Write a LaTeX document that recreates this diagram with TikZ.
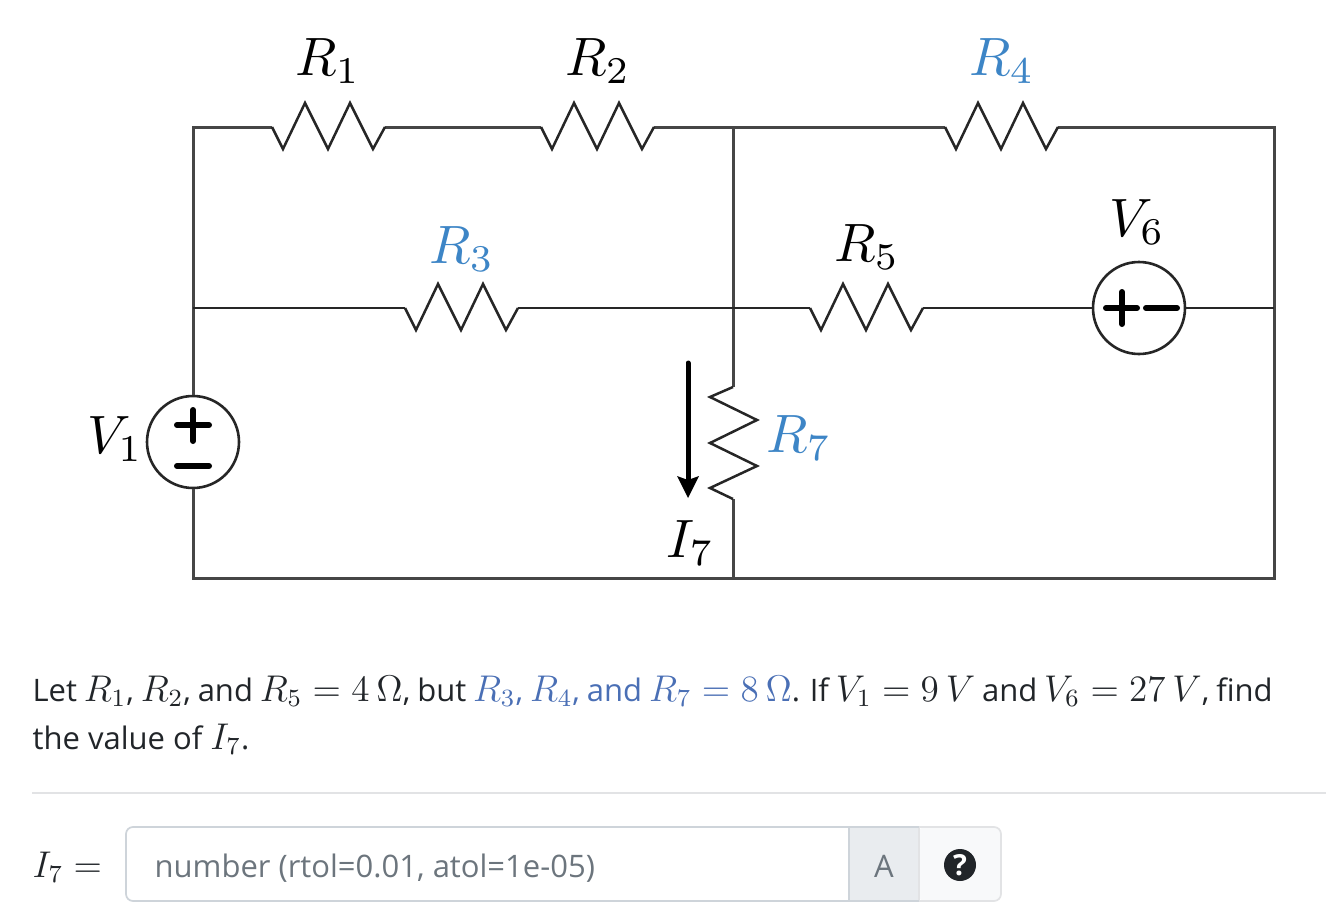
\documentclass[tikz,border=0pt]{standalone}
\usepackage{fontspec}
\setmainfont{Open Sans}
\definecolor{wire}{HTML}{464646}
\definecolor{rblue}{HTML}{3D85C6}
\definecolor{tblue}{HTML}{4A6FB5}
\definecolor{txt}{HTML}{212529}
\definecolor{ph}{HTML}{6C757D}
\definecolor{bd}{HTML}{CED4DA}
\definecolor{hr}{HTML}{E2E3E5}
\definecolor{addon}{HTML}{E9ECEF}
\definecolor{help}{HTML}{F8F9FA}
\newcommand{\mth}[1]{{\large$#1$}}
\tikzset{
  x=1pt,y=-1pt,
  thick wire/.style={draw=wire,line width=3pt},
  thin wire/.style={draw=black!85,line width=2.4pt},
  zig/.style={draw=black!85,line width=2.5pt,line join=miter},
  src/.style={circle,draw=black!85,fill=white,line width=2.6pt,minimum size=92pt,inner sep=0pt},
  pm/.style={draw=black,line width=6pt,line cap=round},
  lab/.style={inner sep=0pt,anchor=base west,scale=5.4},
  para/.style={inner sep=0pt,anchor=base west,scale=3.1,text=txt},
}
\begin{document}
\begin{tikzpicture}
\useasboundingbox (0,0) rectangle (1326,910);
% corner and junction coordinates
\coordinate (tl) at (193,127);
\coordinate (tm) at (733,127);
\coordinate (tr) at (1274,127);
\coordinate (ml) at (193,308);
\coordinate (mm) at (733,308);
\coordinate (mr) at (1274,308);
\coordinate (bl) at (193,578);
\coordinate (bm) at (733,578);
\coordinate (br) at (1274,578);
\node[src] (v1) at (193,442) {};
\node[src] (v6) at (1139,308) {};
% wires
\draw[thick wire] (tm) -- (945,127);
\draw[thick wire] (1058,127) -- (tr) -- (br) -- (bl) -- (v1.south);
\draw[thick wire] (v1.north) -- (tl) -- (272,127);
\draw[thick wire] (385,127) -- (541,127);
\draw[thick wire] (654,127) -- (tm) -- (733,387);
\draw[thick wire] (733,499) -- (bm);
\draw[thin wire] (ml) -- (405,308);
\draw[thin wire] (518,308) -- (810,308);
\draw[thin wire] (923,308) -- (v6.west);
\draw[thin wire] (v6.east) -- (mr);
% resistors
\foreach \xs/\ys in {272/127,541/127,945/127,405/308,810/308}{
  \draw[zig] (\xs,\ys) -- ++(11,22) -- ++(22,-46) -- ++(23,46) -- ++(22,-46) -- ++(23,46) -- ++(12,-22);
}
\draw[zig] (733,387) -- (710,397) -- (757,420) -- (710,443) -- (757,466) -- (710,488) -- (733,499);
% source symbols
\draw[pm] (193,410) -- (193,441);
\draw[pm] (177,425) -- (209,425);
\draw[pm] (177,466) -- (209,466);
\draw[pm] (1106,308) -- (1137,308);
\draw[pm] (1122,292) -- (1122,324);
\draw[pm] (1146,308) -- (1177,308);
% current arrow
\draw[draw=black,line width=5pt,line cap=round] (688,363) -- (688,482);
\fill[black] (677,476) -- (688,480) -- (699,476) -- (688,498) -- cycle;
% labels
\node[lab] (lr1) at (294,75) {$R_1$};
\node[lab] (lr2) at (564,75) {$R_2$};
\node[lab,text=rblue] (lr4) at (968,75) {$R_4$};
\node[lab,text=rblue] (lr3) at (428,263) {$R_3$};
\node[lab] (lr5) at (833,261) {$R_5$};
\node[lab] (lv6) at (1108,236) {$V_6$};
\node[lab] (lv1) at (86,453) {$V_1$};
\node[lab,text=rblue] (lr7) at (765,452) {$R_7$};
\node[lab] (li7) at (665,557) {$I_7$};
% paragraph
\node[para] (p1) at (32,701) {\spaceskip=2.22pt Let \mth{R_1}, \mth{R_2}, and \mth{R_5=4~\Omega}, but \textcolor{tblue}{\mth{R_3}, \mth{R_4}, and \mth{R_7=8~\Omega}}. If \mth{V_1=9~V} and \mth{V_6=27~V}, find};
\node[para] (p2) at (32,749) {the value of \mth{I_7}.};
\draw[draw=hr,line width=1.5pt] (32,793) -- (1326,793);
% input row
\node[para] (ilab) at (32,877) {\mth{I_7=}};
\fill[help,rounded corners=7pt] (918,827) rectangle (1001,901);
\fill[addon] (849,827) rectangle (919,901);
\draw[draw=bd,line width=1.7pt,rounded corners=7pt] (849,827) -- (126,827) -- (126,901) -- (849,901);
\draw[draw=bd,line width=1.7pt] (849,827) -- (849,901);
\draw[draw=hr,line width=1.7pt] (919,827) -- (919,901);
\draw[draw=hr,line width=1.7pt,rounded corners=7pt] (919,827) -- (1001,827) -- (1001,901) -- (919,901);
\draw[draw=bd,line width=1.7pt] (849,827) -- (919,827) (849,901) -- (919,901);
\node[para,text=ph] (ph) at (154,877) {number (rtol=0.01, atol=1e-05)};
\node[para,text=ph,anchor=base] (unit) at (884,877) {A};
\node[circle,fill=txt,minimum size=32pt,inner sep=0pt,text=white,font=\bfseries] (help) at (960,865) {\scalebox{2.9}{?}};
\end{tikzpicture}
\end{document}
